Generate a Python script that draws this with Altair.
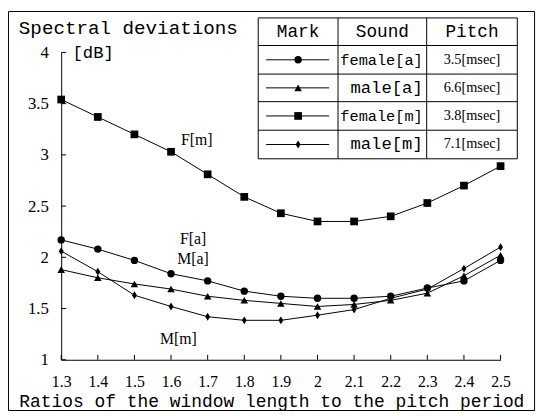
import altair as alt
import pandas as pd

# ---------------- data ----------------
ratios = [1.3, 1.4, 1.5, 1.6, 1.7, 1.8, 1.9, 2.0, 2.1, 2.2, 2.3, 2.4, 2.5]
female_a = [2.17, 2.08, 1.97, 1.84, 1.77, 1.67, 1.62, 1.60, 1.60, 1.62, 1.70, 1.77, 1.97]
male_a = [1.88, 1.80, 1.74, 1.69, 1.62, 1.58, 1.55, 1.52, 1.54, 1.58, 1.65, 1.82, 2.02]
female_m = [3.54, 3.37, 3.20, 3.03, 2.81, 2.59, 2.43, 2.35, 2.35, 2.40, 2.53, 2.70, 2.89]
male_m = [2.06, 1.86, 1.63, 1.52, 1.42, 1.385, 1.385, 1.435, 1.49, 1.60, 1.69, 1.89, 2.10]

sounds = ["female[a]", "male[a]", "female[m]", "male[m]"]
pitches = ["3.5[msec]", "6.6[msec]", "3.8[msec]", "7.1[msec]"]
headers = ["Mark", "Sound", "Pitch"]
curve_labels = ["F[a]", "M[a]", "F[m]", "M[m]"]
curve_label_x = [1.66, 1.66, 1.67, 1.62]
curve_label_y = [2.18, 1.98, 3.14, 1.20]

x_ticks = [1.3, 1.4, 1.5, 1.6, 1.7, 1.8, 1.9, 2, 2.1, 2.2, 2.3, 2.4, 2.5]
y_ticks = [1, 1.5, 2, 2.5, 3, 3.5, 4]

title_text = "Spectral deviations"
x_title = "Ratios of the window length to the pitch period"
y_title = "[dB]"

# ---------------- styling / layout ----------------
MONO = "Liberation Mono"
SERIF = "Liberation Serif"
PW, PH = 446, 312
shapes = ["circle", "triangle-up", "square", "M0,-1L0.62,0L0,1L-0.62,0Z"]
sizes = [56, 64, 50, 80]

series_values = [female_a, male_a, female_m, male_m]
rows = []
for s, vals in zip(sounds, series_values):
    for r, v in zip(ratios, vals):
        rows.append({"series": s, "ratio": r, "value": v})
df = pd.DataFrame(rows)

shape_scale = alt.Scale(domain=sounds, range=shapes)
size_scale = alt.Scale(domain=sounds, range=sizes)
x_scale = alt.Scale(domain=[1.3, 2.5], nice=False, zero=False)
y_scale = alt.Scale(domain=[1, 4], nice=False, zero=False)

x_axis = alt.Axis(
    values=x_ticks, labelExpr="'' + datum.value", ticks=False, grid=False,
    domainColor="black", domainWidth=1,
    labelFont=SERIF, labelFontSize=16, labelColor="black", labelPadding=14,
    labelFlush=False, labelOverlap=False,
    title=x_title, titleFont=MONO, titleFontSize=18.2, titleFontWeight="normal",
    titleColor="black", titleAlign="left", titleBaseline="middle",
    titleX=-43, titleY=42,
)
y_axis = alt.Axis(
    values=y_ticks, labelExpr="'' + datum.value", ticks=False, grid=False,
    domainColor="black", domainWidth=1,
    labelFont=SERIF, labelFontSize=17, labelColor="black", labelPadding=13,
    labelFlush=False, labelOverlap=False,
    title=y_title, titleFont=MONO, titleFontSize=17.5, titleFontWeight="normal",
    titleColor="black", titleAngle=0, titleAlign="left", titleBaseline="middle",
    titleX=11, titleY=0,
)


def X(field):
    return alt.X(field, scale=x_scale, axis=x_axis, title=x_title)


def Y(field):
    return alt.Y(field, scale=y_scale, axis=y_axis, title=y_title)


lines = alt.Chart(df).mark_line(color="black", strokeWidth=1).encode(
    x=X("ratio:Q"), y=Y("value:Q"), detail="series:N"
)
points = alt.Chart(df).mark_point(filled=True, color="black", opacity=1).encode(
    x=X("ratio:Q"), y=Y("value:Q"),
    shape=alt.Shape("series:N", scale=shape_scale, legend=None),
    size=alt.Size("series:N", scale=size_scale, legend=None),
)

lab_df = pd.DataFrame({"t": curve_labels, "ratio": curve_label_x, "value": curve_label_y})
curve_text = alt.Chart(lab_df).mark_text(font=SERIF, fontSize=16, color="black").encode(
    x=X("ratio:Q"), y=Y("value:Q"), text="t:N",
)

# inward tick marks
xt = alt.Chart(pd.DataFrame({"ratio": x_ticks})).mark_rule(color="black", strokeWidth=1).encode(
    x=X("ratio:Q"), y=alt.value(PH), y2=alt.value(PH - 5)
)
yt = alt.Chart(pd.DataFrame({"value": y_ticks})).mark_rule(color="black", strokeWidth=1).encode(
    y=Y("value:Q"), x=alt.value(0), x2=alt.value(5)
)

# ---------------- legend table and frame (pixel layout) ----------------
col_edges = [200, 281, 371, 463]
row_edges = [-35, -7, 22, 50, 79, 108]
frame = [-53.5, 480.5, -41.5, 363.5]

rule_rows = []
for y in row_edges:
    rule_rows.append({"x": col_edges[0], "x2": col_edges[-1], "y": y, "y2": y})
for x in col_edges:
    rule_rows.append({"x": x, "x2": x, "y": row_edges[0], "y2": row_edges[-1]})
rule_rows.append({"x": frame[0], "x2": frame[1], "y": frame[2], "y2": frame[2]})
rule_rows.append({"x": frame[0], "x2": frame[1], "y": frame[3], "y2": frame[3]})
rule_rows.append({"x": frame[0], "x2": frame[0], "y": frame[2], "y2": frame[3]})
rule_rows.append({"x": frame[1], "x2": frame[1], "y": frame[2], "y2": frame[3]})
table_rules = alt.Chart(pd.DataFrame(rule_rows)).mark_rule(color="black", strokeWidth=1).encode(
    x=alt.X("x:Q", scale=None, axis=None), x2="x2:Q",
    y=alt.Y("y:Q", scale=None, axis=None), y2="y2:Q",
)

row_centers = [(row_edges[i] + row_edges[i + 1]) / 2 for i in range(1, 5)]
head_y = (row_edges[0] + row_edges[1]) / 2
col_centers = [(col_edges[i] + col_edges[i + 1]) / 2 for i in range(3)]

head_df = pd.DataFrame({"t": headers, "x": col_centers, "y": [head_y] * 3})
head_text = alt.Chart(head_df).mark_text(font=MONO, fontSize=18, color="black", baseline="middle").encode(
    x=alt.X("x:Q", scale=None, axis=None), y=alt.Y("y:Q", scale=None, axis=None), text="t:N"
)

sound_df = pd.DataFrame({
    "t": sounds, "x": [col_edges[2] - 4] * 4, "y": row_centers,
    "fs": [15.5 if s.startswith("female") else 17.5 for s in sounds],
})
sound_text = alt.Chart(sound_df).mark_text(font=MONO, color="black", align="right", baseline="middle").encode(
    x=alt.X("x:Q", scale=None, axis=None), y=alt.Y("y:Q", scale=None, axis=None), text="t:N",
    size=alt.Size("fs:Q", scale=None, legend=None),
)

pitch_df = pd.DataFrame({"t": pitches, "x": [col_centers[2]] * 4, "y": row_centers})
pitch_text = alt.Chart(pitch_df).mark_text(font=SERIF, fontSize=14.5, color="black", baseline="middle").encode(
    x=alt.X("x:Q", scale=None, axis=None), y=alt.Y("y:Q", scale=None, axis=None), text="t:N"
)

mark_line_df = pd.DataFrame({"x": [col_edges[0] + 8] * 4, "x2": [col_edges[1] - 9] * 4, "y": row_centers})
mark_lines = alt.Chart(mark_line_df).mark_rule(color="black", strokeWidth=1).encode(
    x=alt.X("x:Q", scale=None, axis=None), x2="x2:Q", y=alt.Y("y:Q", scale=None, axis=None)
)
mark_pts_df = pd.DataFrame({"series": sounds, "x": [col_centers[0]] * 4, "y": row_centers})
mark_pts = alt.Chart(mark_pts_df).mark_point(filled=True, color="black", opacity=1).encode(
    x=alt.X("x:Q", scale=None, axis=None), y=alt.Y("y:Q", scale=None, axis=None),
    shape=alt.Shape("series:N", scale=shape_scale, legend=None),
    size=alt.Size("series:N", scale=size_scale, legend=None),
)

title_df = pd.DataFrame({"t": [title_text], "x": [-43], "y": [-25]})
title_mark = alt.Chart(title_df).mark_text(font=MONO, fontSize=19.5, color="black", align="left", baseline="middle").encode(
    x=alt.X("x:Q", scale=None, axis=None), y=alt.Y("y:Q", scale=None, axis=None), text="t:N"
)

chart = alt.layer(
    lines, points, curve_text, xt, yt,
    table_rules, head_text, sound_text, pitch_text, mark_lines, mark_pts, title_mark,
).properties(
    width=PW, height=PH,
    padding={"left": 54, "top": 42, "right": 38, "bottom": 54},
    autosize=alt.AutoSizeParams(type="none"),
    background="white",
).configure_view(stroke=None).configure_axis(labelOverlap=False)

chart.save("out.html", embed_options={"renderer": "svg", "actions": False})
